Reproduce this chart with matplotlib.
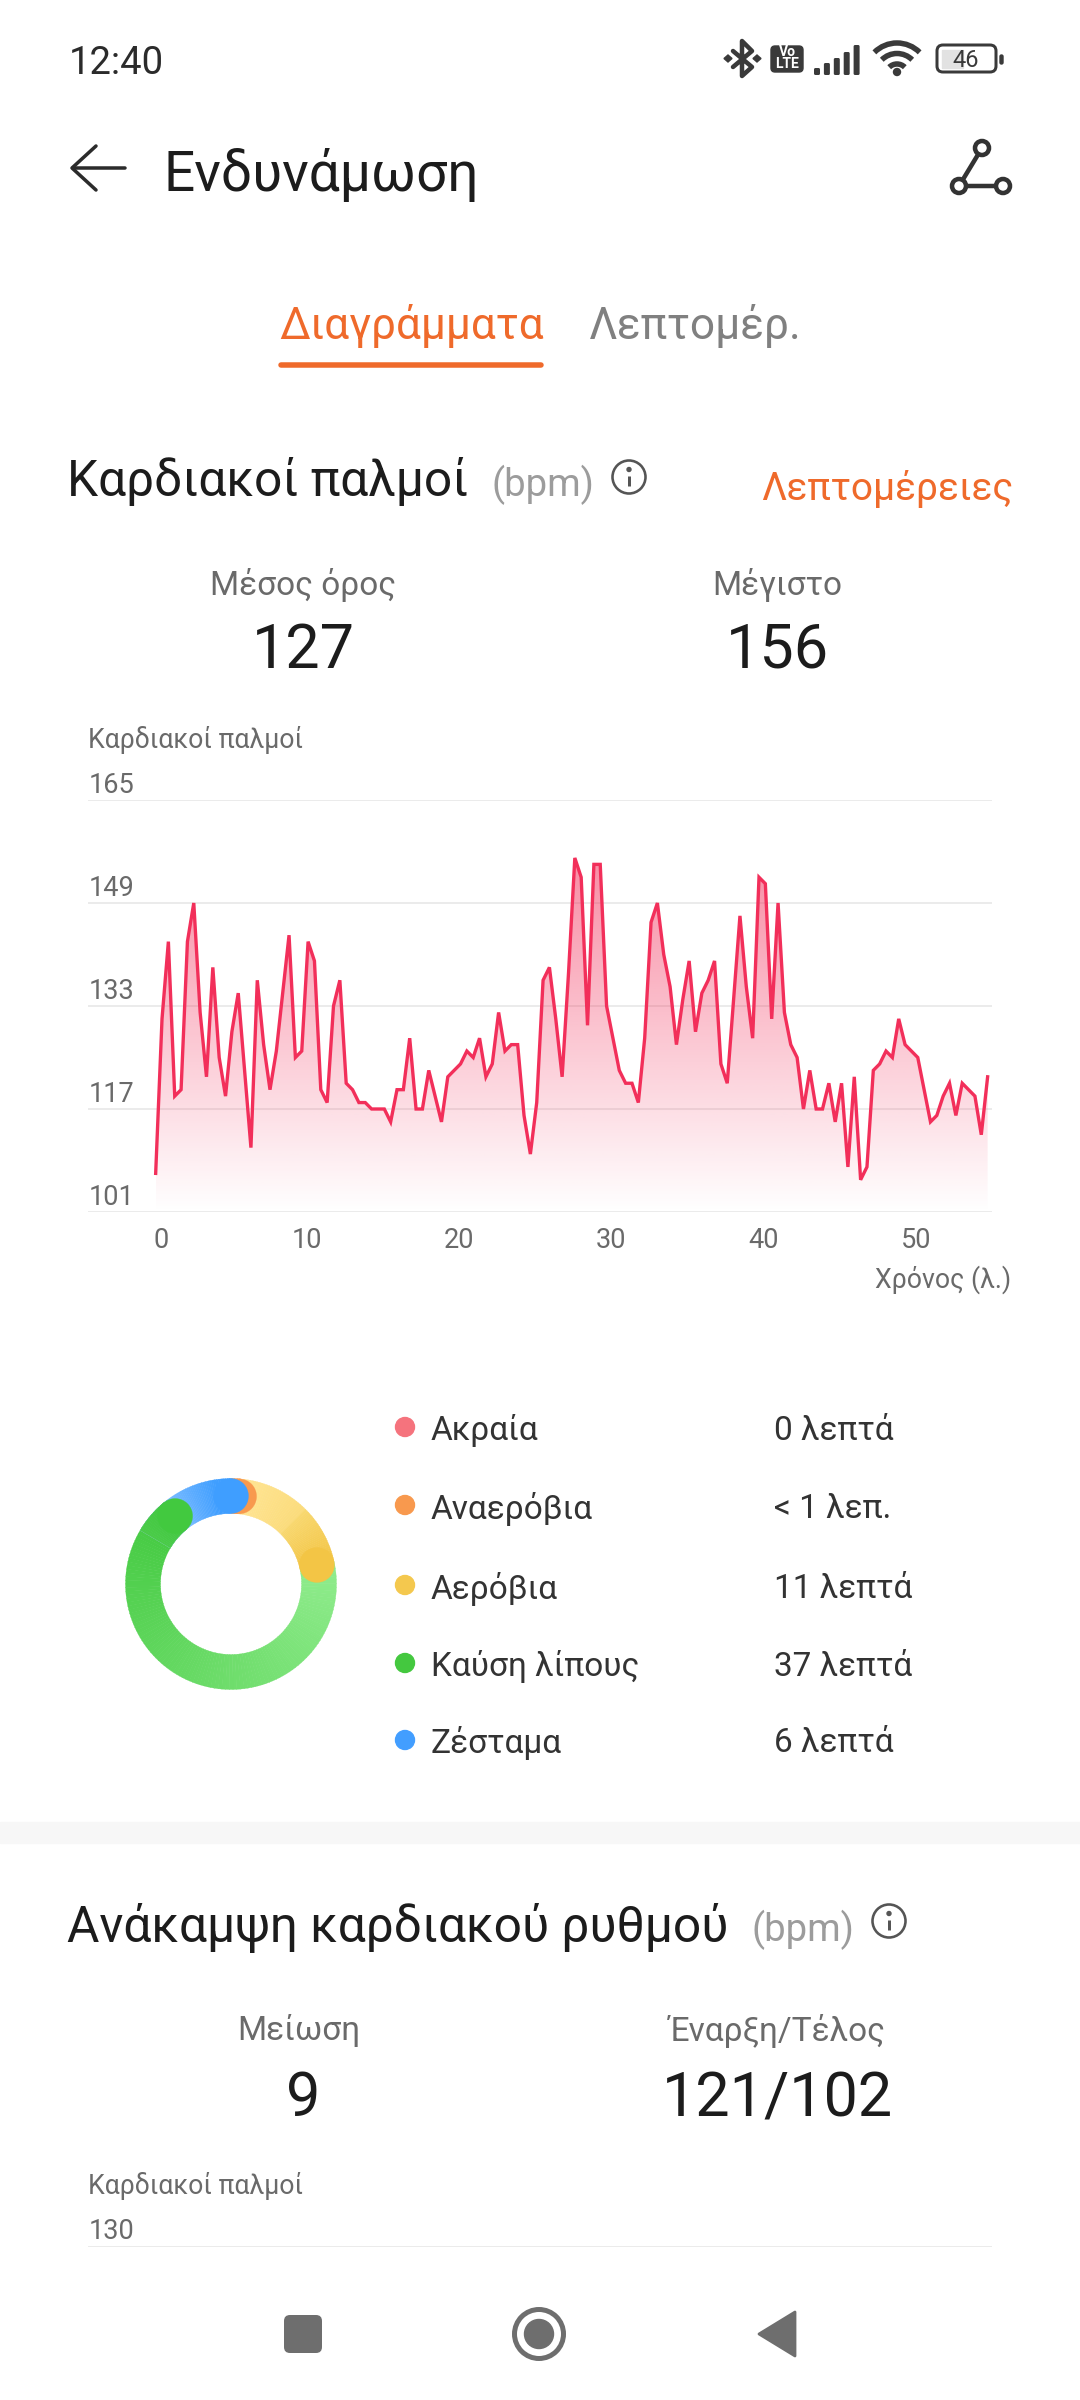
import numpy as np
import matplotlib
matplotlib.use("Agg")
import matplotlib.pyplot as plt
from matplotlib.patches import Wedge, Circle, FancyBboxPatch, Rectangle, Polygon, Arc
from matplotlib.transforms import ScaledTranslation
from matplotlib.colors import to_rgb

plt.rcParams['font.family'] = ['Roboto', 'Noto Sans', 'DejaVu Sans']

# ---------- data ----------
heart_rate = [107,131,143,119,120,143,149,132,122,139,125,119,129,135,123,111,137,127,120,126,
              135,144,125,126,143,140,120,118,133,137,121,120,118,118,117,117,117,115,120,120,
              128,117,117,123,119,115,122,123,124,126,125,128,122,124,132,126,127,127,116,110,
              118,137,139,131,122,138,156,153,130,155,155,133,128,123,121,121,118,128,146,149,
              141,136,127,134,140,129,135,137,140,124,121,134,147,136,128,153,152,131,149,132,
              127,125,117,123,117,117,121,115,121,108,122,106,108,123,124,126,125,131,127,126,
              125,120,115,116,119,121,116,121,120,119,113,122]
sample_minutes = 25 / 60
hr_yticks = [101, 117, 133, 149, 165]
time_ticks = [0, 10, 20, 30, 40, 50]
zone_names = ['Ακραία', 'Αναερόβια', 'Αερόβια', 'Καύση λίπους', 'Ζέσταμα']
zone_labels = ['0 λεπτά', '< 1 λεπ.', '11 λεπτά', '37 λεπτά', '6 λεπτά']
zone_minutes = [0, 0.8, 11, 37, 6]
zone_colors = ['#F5737D', '#F8994E', '#F4C84E', '#44C83F', '#429EFF']

W, H = 1080, 2400
fig = plt.figure(figsize=(W / 100, H / 100), dpi=100, facecolor='white')
ui = fig.add_axes([0, 0, 1, 1], zorder=0)
ui.set_xlim(0, W); ui.set_ylim(H, 0); ui.axis('off')
PX = 0.72  # points per pixel

ORANGE = '#EF6A2B'; DARK = '#1C1C1C'; GRAY = '#6A6A6A'; LGRAY = '#9C9C9C'

def T(x, y, s, size, color=DARK, ha='left', va='center', **kw):
    y = y + (5 if size > 35 else 3.5)
    return ui.text(x, y, s, fontsize=size, color=color, ha=ha, va=va, **kw)

def line(xs, ys, lw=3, color='#3A3A3A', cap='round', **kw):
    ui.plot(xs, ys, lw=lw * PX, color=color, solid_capstyle=cap, solid_joinstyle='round', **kw)

# status bar
T(69, 60, '12:40', 27.5, '#2B2B2B')
line([733, 752, 742, 742, 752, 733], [51, 67, 76, 41, 51, 67], lw=4.5)
for cx in (728, 757):
    ui.add_patch(Polygon([(cx - 4, 58.5), (cx, 55), (cx + 4, 58.5), (cx, 62)], color='#3A3A3A'))
ui.add_patch(FancyBboxPatch((771, 46), 32, 26, boxstyle='round,pad=0,rounding_size=4', fc='#3A3A3A', ec='#3A3A3A', lw=1))
T(787, 49, 'Vo', 10, 'white', ha='center', fontweight='bold')
T(787, 61, 'LTE', 10, 'white', ha='center', fontweight='bold')
for i, h_ in enumerate([7, 12, 17, 23, 30]):
    ui.add_patch(FancyBboxPatch((814 + i * 9.9, 75 - h_), 6, h_, boxstyle='round,pad=0,rounding_size=1.5',
                                fc='#3A3A3A', ec='none'))
for r_ in (32, 21.5, 11):
    ui.add_patch(Arc((897, 75), 2 * r_, 2 * r_, theta1=225, theta2=315, lw=5.5 * PX, color='#3A3A3A'))
ui.add_patch(Circle((897, 72), 3.5, color='#3A3A3A'))
ui.add_patch(Rectangle((942, 50), 21, 18, color='#E2E2E2'))
ui.add_patch(FancyBboxPatch((937, 45), 59, 27, boxstyle='round,pad=0,rounding_size=6', fc='none', ec='#3A3A3A', lw=3 * PX))
ui.add_patch(FancyBboxPatch((1000, 55), 3, 9, boxstyle='round,pad=0,rounding_size=1.5', fc='#3A3A3A', ec='#3A3A3A', lw=1))
T(966, 57, '46', 17, '#3A3A3A', ha='center')

# header
line([125, 73], [168, 168], lw=3.5, color='#2B2B2B')
line([96, 72, 96], [146, 168, 190], lw=3.5, color='#2B2B2B')
T(164, 169.5, 'Ενδυνάμωση', 39.6, DARK)
line([982, 959, 1003], [148, 186, 186], lw=4.5, color='#333333')
for cx, cy in [(982, 148), (959, 186), (1003, 186)]:
    ui.add_patch(Circle((cx, cy), 7, fc='white', ec='#333333', lw=4.5 * PX, zorder=3))

# tabs
T(279, 322.5, 'Διαγράμματα', 31.7, ORANGE)
T(589, 322.5, 'Λεπτομέρ.', 31.8, '#808080')
line([281, 541], [365, 365], lw=5.5, color=ORANGE)

def info(x, y):
    ui.add_patch(Circle((x, y), 16.5, fc='none', ec='#555555', lw=2.6 * PX))
    line([x, x], [y - 1, y + 9], lw=3, color='#555555', cap='butt')
    ui.add_patch(Circle((x, y - 7.5), 2, color='#555555'))

# heart-rate header
T(67, 477, 'Καρδιακοί παλμοί', 35.7, DARK)
T(492, 481, '(bpm)', 27.5, LGRAY)
info(629, 477)
T(1013, 485, 'Λεπτομέρειες', 28, ORANGE, ha='right')
T(303, 581, 'Μέσος όρος', 24, GRAY, ha='center')
T(777, 581, 'Μέγιστο', 24, GRAY, ha='center')
T(303, 646, '127', 44, DARK, ha='center')
T(777, 646, '156', 44, DARK, ha='center')
T(88, 737, 'Καρδιακοί παλμοί', 19.2, GRAY)

# heart-rate chart
L, R, TOP, BOT = 88, 992, 800, 1212
ax = fig.add_axes([L / W, 1 - BOT / H, (R - L) / W, (BOT - TOP) / H], zorder=2)
ax.patch.set_alpha(0)
times = np.arange(len(heart_rate)) * sample_minutes
line_color = '#F22F5A'
poly = ax.fill_between(times, heart_rate, hr_yticks[0], color='none', lw=0)
grad = np.zeros((256, 2, 4))
grad[..., :3] = to_rgb('#F22F5A')
grad[..., 3] = np.linspace(0.55, 0.0, 256)[:, None]
im = ax.imshow(grad, extent=[times[0], times[-1], hr_yticks[0], max(heart_rate)], aspect='auto', zorder=1.5)
im.set_clip_path(poly.get_paths()[0], transform=ax.transData)
ax.plot(times, heart_rate, color=line_color, lw=2.4, solid_joinstyle='miter', zorder=3)
ax.set_xlim(-4.44, 54.87)
ax.set_ylim(hr_yticks[0], hr_yticks[-1])
ax.set_yticks(hr_yticks)
ax.set_xticks(time_ticks)
ax.grid(axis='y', color='#E6E6E6', lw=1.1)
ax.set_axisbelow(True)
for s in ax.spines.values():
    s.set_visible(False)
ax.tick_params(axis='both', length=0, colors=GRAY)
ax.tick_params(axis='y', labelsize=19.5, pad=0, labelleft=True)
ax.tick_params(axis='x', labelsize=19.5, pad=11)
for lab in ax.get_yticklabels():
    lab.set_ha('left'); lab.set_va('bottom')
    lab.set_transform(lab.get_transform() + ScaledTranslation(1 / 100, 1 / 100, fig.dpi_scale_trans))
for lab, v in zip(ax.get_xticklabels(), time_ticks):
    dx = 5.5 if v == 0 else -1.5
    lab.set_transform(lab.get_transform() + ScaledTranslation(dx / 100, 0, fig.dpi_scale_trans))
T(1011, 1276, 'Χρόνος (λ.)', 19.2, GRAY, ha='right')

# zone donut
da = fig.add_axes([(231 - 125) / W, 1 - (1584 + 125) / H, 250 / W, 250 / H], zorder=2)
da.set_xlim(-125, 125); da.set_ylim(-125, 125); da.set_aspect('equal'); da.axis('off')
Ro, Ri = 105.5, 70.5
Rm, Rc = (Ro + Ri) / 2, (Ro - Ri) / 2
per_min = 360 / sum(zone_minutes)

def ring(a0, a1, c0, c1, n=80):
    c0, c1 = np.array(to_rgb(c0)), np.array(to_rgb(c1))
    edges = np.linspace(a0, a1, n + 1)
    for k in range(n):
        c = c0 + (c1 - c0) * (k + 0.5) / n
        da.add_patch(Wedge((0, 0), Ro, 90 - edges[k + 1] - 0.2, 90 - edges[k], width=Ro - Ri, fc=c, ec=c, lw=0.2))

def cap(a, c):
    t = np.deg2rad(90 - a)
    da.add_patch(Circle((Rm * np.cos(t), Rm * np.sin(t)), Rc, fc=c, ec=c, lw=0.2))

a_or = zone_minutes[1] * per_min
a_ye = a_or + zone_minutes[2] * per_min
a_gr = a_ye + zone_minutes[3] * per_min
ring(a_ye, a_gr, '#90EC8D', '#42C93F', 120)
ring(a_or, 45, '#FFE595', '#FBDC7C', 30)
ring(45, a_ye, '#F8D870', '#F3C545', 30)
cap(a_ye, '#F3C545')
ring(0, a_or, zone_colors[1], zone_colors[1], 6)
cap(a_or, zone_colors[1])
ring(a_gr - 20, 352, '#A8D3FF', '#3F9EFF', 50)
ring(352, 360, '#3F9EFF', '#3F9EFF', 8)
cap(0, '#3F9EFF')
ring(a_gr - 20, a_gr, '#4BCB48', '#42C93F', 15)
cap(a_gr, '#42C93F')

# zone legend
for y, name, lab, col in zip([1427, 1505, 1585, 1663, 1740], zone_names, zone_labels, zone_colors):
    ui.add_patch(Circle((405, y), 9.5, color=col))
    T(431, y, name, 24, '#333333')
    T(774, y, lab, 24, '#333333')

# separator
ui.add_patch(Rectangle((0, 1822), W, 21, color='#F7F7F7'))

# recovery section
T(67, 1923, 'Ανάκαμψη καρδιακού ρυθμού', 35.7, DARK)
T(751, 1926, '(bpm)', 27.5, LGRAY)
info(889, 1921)
T(299, 2027, 'Μείωση', 24, GRAY, ha='center')
T(777, 2027, 'Έναρξη/Τέλος', 24, GRAY, ha='center')
T(303, 2094, '9', 44, DARK, ha='center')
T(777, 2094, '121/102', 44, DARK, ha='center')
T(88, 2183, 'Καρδιακοί παλμοί', 19.2, GRAY)
ax2 = fig.add_axes([L / W, 1 - 2276 / H, (R - L) / W, 30 / H], zorder=2)
ax2.patch.set_alpha(0)
ax2.set_ylim(120, 130); ax2.set_xticks([]); ax2.set_yticks([130])
ax2.grid(axis='y', color='#E6E6E6', lw=1.1)
for s in ax2.spines.values():
    s.set_visible(False)
ax2.tick_params(axis='y', length=0, labelsize=19.5, pad=0, colors=GRAY)
for lab in ax2.get_yticklabels():
    lab.set_ha('left'); lab.set_va('bottom')
    lab.set_transform(lab.get_transform() + ScaledTranslation(1 / 100, 1 / 100, fig.dpi_scale_trans))

# navigation bar
NAV = '#6E6E6E'
ui.add_patch(FancyBboxPatch((284, 2315), 38, 38, boxstyle='round,pad=0,rounding_size=6', fc=NAV, ec=NAV, lw=0))
ui.add_patch(Circle((539, 2334), 24.5, fc='none', ec=NAV, lw=5 * PX))
ui.add_patch(Circle((539, 2334), 14.5, color=NAV))
ui.add_patch(Polygon([(759, 2334), (795, 2312), (795, 2356)], closed=True, fc=NAV, ec=NAV, lw=2, joinstyle='round'))

fig.savefig('out.png', dpi=100)
